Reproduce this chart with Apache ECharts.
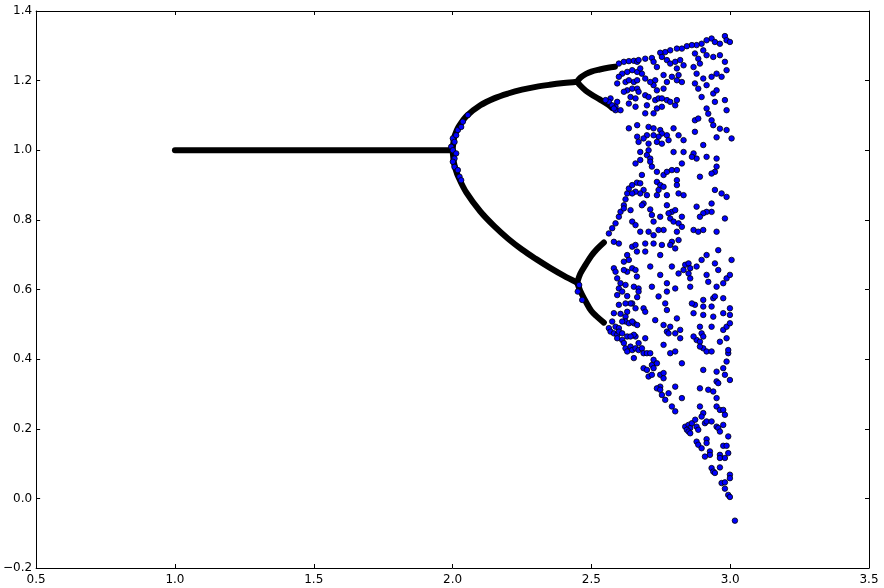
<!DOCTYPE html>
<html><head><meta charset="utf-8">
<script src="https://cdn.jsdelivr.net/npm/echarts@6/dist/echarts.min.js"></script>
<style>html,body{margin:0;padding:0;background:#fff}#c{width:884px;height:588px}</style>
</head><body><div id="c"></div>
<script>
// Tick values
const xTicks = [0.5, 1.0, 1.5, 2.0, 2.5, 3.0, 3.5];
const yTicks = [-0.2, 0.0, 0.2, 0.4, 0.6, 0.8, 1.0, 1.2, 1.4];

// Stable / periodic branches (r, x)
const fixedBranch = [[1.0,1.0],[1.5,1.0],[2.0,1.0]];
const upperPeriod2 = [[2.0,1.0],[2.005,1.034],[2.01,1.047],[2.02,1.065],[2.05,1.098],[2.1,1.129],[2.15,1.149],[2.2,1.163],[2.25,1.174],[2.3,1.182],[2.35,1.188],[2.4,1.193],[2.449,1.197]];
const lowerPeriod2 = [[2.0,1.0],[2.005,0.964],[2.01,0.948],[2.02,0.925],[2.05,0.878],[2.1,0.824],[2.15,0.782],[2.2,0.746],[2.25,0.715],[2.3,0.688],[2.35,0.663],[2.4,0.640],[2.449,0.620]];
const upperLoopHigh = [[2.449,1.197],[2.46,1.208],[2.48,1.219],[2.5,1.226],[2.53,1.232],[2.56,1.237],[2.585,1.240]];
const upperLoopLow = [[2.449,1.197],[2.46,1.186],[2.48,1.171],[2.5,1.160],[2.53,1.146],[2.56,1.131],[2.575,1.121]];
const lowerLoopHigh = [[2.449,0.620],[2.46,0.645],[2.48,0.672],[2.5,0.697],[2.52,0.716],[2.545,0.735]];
const lowerLoopLow = [[2.449,0.620],[2.46,0.596],[2.48,0.565],[2.5,0.538],[2.52,0.522],[2.545,0.505]];

// Loose points near the bifurcations
const transientPts = [[2.001,1.034],[2.007,1.024],[1.995,1.010],[2.001,1.000],[2.013,0.991],[2.007,0.976],[2.001,0.967],[2.007,0.952],[2.019,0.943],[2.025,0.924],[2.031,0.914],[2.019,1.058],[2.031,1.067],[2.013,1.043],[2.037,1.082],[2.055,1.101],[2.456,0.613],[2.451,0.594],[2.467,0.570]];

// Chaotic region, top part
const chaosTop = [[2.981,1.328],[2.933,1.321],[2.945,1.311],[2.963,1.306],[2.987,1.316],[2.999,1.311],[2.915,1.316],[2.897,1.306],[2.879,1.302],[2.862,1.302],[2.844,1.299],[2.826,1.292],[2.808,1.292],[2.784,1.287],[2.766,1.282],[2.748,1.280],
[2.599,1.249],[2.617,1.254],[2.635,1.256],[2.653,1.257],[2.665,1.254],[2.670,1.259],[2.694,1.263],[2.718,1.265],[2.724,1.254],[2.736,1.239],[2.754,1.268],[2.772,1.259],[2.784,1.249],[2.802,1.254],[2.808,1.235],[2.820,1.259],[2.832,1.244],[2.814,1.216],[2.808,1.201],[2.826,1.196],[2.790,1.211],[2.760,1.216],[2.772,1.196],[2.760,1.177],[2.730,1.201],[2.724,1.187],[2.736,1.172],[2.712,1.196],[2.694,1.206],[2.682,1.220],[2.665,1.225],[2.676,1.235],[2.647,1.230],[2.629,1.225],[2.611,1.220],[2.599,1.211],[2.593,1.192],[2.623,1.196],[2.635,1.201],[2.653,1.196],[2.665,1.201],[2.647,1.177],[2.629,1.172],[2.617,1.168],[2.665,1.177],[2.670,1.168],[2.641,1.153],[2.659,1.149],[2.694,1.158],[2.706,1.153],[2.700,1.129],[2.730,1.144],[2.742,1.149],[2.754,1.149],[2.772,1.144],[2.784,1.139],[2.802,1.129],[2.808,1.144],[2.754,1.125],[2.736,1.120],[2.724,1.106],[2.694,1.106],[2.659,1.125],[2.635,1.134],[2.593,1.139],[2.587,1.125],[2.587,1.115],[2.605,1.115],[2.569,1.149],[2.563,1.139],[2.551,1.144],[2.575,1.129],[2.581,1.120],
[2.635,1.063],[2.665,1.072],[2.706,1.067],[2.724,1.063],[2.748,1.058],[2.754,1.048],[2.772,1.043],[2.796,1.063],[2.814,1.043],[2.832,1.029],[2.778,1.029],[2.742,1.039],[2.724,1.043],[2.700,1.043],[2.688,1.034],[2.665,1.039],[2.670,1.024],[2.706,1.019],[2.736,1.024],[2.754,1.019],
[2.873,1.278],[2.885,1.263],[2.891,1.249],[2.868,1.239],[2.879,1.220],[2.903,1.206],[2.873,1.192],[2.885,1.177],[2.915,1.187],[2.939,1.163],[2.897,1.153],[2.951,1.172],[2.969,1.211],[2.951,1.220],[2.987,1.230],[2.981,1.254],[2.963,1.273],[2.939,1.268],[2.915,1.273],[2.903,1.287],[2.933,1.211],[2.945,1.139],[2.981,1.144],[2.987,1.115],[2.915,1.120],[2.921,1.105],[2.873,1.086],[2.885,1.091],[2.933,1.086],[2.939,1.072],[2.963,1.062],[2.987,1.058],[3.005,1.034],[2.951,1.037],[2.903,1.015],[2.873,1.053],
[2.706,1.000],[2.676,0.995],[2.700,0.986],[2.712,0.976],[2.832,0.995],[2.796,0.995],[2.868,0.991],[2.879,0.976],[2.862,0.981],[2.915,0.981],[2.951,0.976]];

// Chaotic region, upper middle part
const chaosUpperMid = [[2.563,0.761],[2.575,0.776],[2.587,0.790],[2.599,0.809],[2.605,0.823],[2.617,0.842],[2.623,0.859],[2.629,0.876],[2.635,0.890],[2.647,0.900],[2.664,0.907],[2.676,0.905],
[2.659,0.962],[2.676,0.972],[2.712,0.967],[2.718,0.953],[2.736,0.938],[2.760,0.929],[2.772,0.938],[2.790,0.943],[2.808,0.943],[2.826,0.962],[2.951,0.953],[2.945,0.938],[2.933,0.933],[2.891,0.924],[2.682,0.929],[2.688,0.886],[2.700,0.871],[2.676,0.876],[2.659,0.881],[2.647,0.876],[2.736,0.909],[2.748,0.900],[2.760,0.895],[2.742,0.886],[2.736,0.871],[2.772,0.871],[2.808,0.914],[2.808,0.900],[2.814,0.876],[2.832,0.871],[2.772,0.842],[2.790,0.823],[2.802,0.828],[2.778,0.819],[2.712,0.830],[2.688,0.847],[2.682,0.842],[2.641,0.828],[2.617,0.833],[2.647,0.795],[2.659,0.785],[2.718,0.814],[2.724,0.795],[2.748,0.809],[2.784,0.804],[2.796,0.795],[2.814,0.790],[2.826,0.809],[2.826,0.780],[2.808,0.766],[2.814,0.742],[2.790,0.737],[2.760,0.771],[2.742,0.771],[2.706,0.766],[2.676,0.766],[2.647,0.723],[2.659,0.728],[2.664,0.709],[2.694,0.709],[2.694,0.732],[2.724,0.732],[2.724,0.756],[2.748,0.699],[2.754,0.728],[2.784,0.728],[2.802,0.718],[2.581,0.737],[2.599,0.732],[2.617,0.680],[2.629,0.699],[2.635,0.685],[2.647,0.661],[2.659,0.656],[2.664,0.637],[2.629,0.651],[2.617,0.656],[2.581,0.661],[2.587,0.651],[2.593,0.632],[2.605,0.618],[2.623,0.613],[2.599,0.603],[2.653,0.608],[2.670,0.603],[2.712,0.666],[2.718,0.608],[2.748,0.642],[2.772,0.618],[2.790,0.666],[2.814,0.646],[2.802,0.603],[2.832,0.656],[2.838,0.671],[2.850,0.675],[2.856,0.661],[2.850,0.646],[2.856,0.632],[2.856,0.608],[2.879,0.666],[2.897,0.685],[2.915,0.699],[2.957,0.713],[2.945,0.675],[2.957,0.656],[2.915,0.642],[2.921,0.622],[2.951,0.608],[2.975,0.618],[2.987,0.632],[2.999,0.642],[3.005,0.685],[2.868,0.771],[2.885,0.766],[2.903,0.771],[2.951,0.766],[2.981,0.804],[2.933,0.823],[2.915,0.823],[2.903,0.819],[2.891,0.809],[2.879,0.838],[2.933,0.847],[2.969,0.876],[2.987,0.866],[2.945,0.886]];

// Chaotic region, lower middle part
const chaosLowerMid = [[2.593,0.584],[2.611,0.594],[2.629,0.581],[2.647,0.560],[2.665,0.578],[2.670,0.594],[2.641,0.560],[2.623,0.560],[2.599,0.556],[2.659,0.546],[2.605,0.530],[2.629,0.536],[2.623,0.522],[2.623,0.508],[2.635,0.503],[2.611,0.508],[2.581,0.532],[2.575,0.508],[2.587,0.493],[2.563,0.489],[2.569,0.479],[2.581,0.474],[2.593,0.470],[2.599,0.489],[2.599,0.479],[2.611,0.474],[2.593,0.460],[2.611,0.455],[2.629,0.465],[2.617,0.446],[2.623,0.431],[2.629,0.422],[2.641,0.436],[2.647,0.426],[2.659,0.431],[2.659,0.465],[2.653,0.470],[2.641,0.465],[2.670,0.446],[2.670,0.426],[2.682,0.431],[2.694,0.460],[2.688,0.417],[2.700,0.417],[2.712,0.417],[2.653,0.403],[2.653,0.503],[2.665,0.498],[2.647,0.508],[2.688,0.546],[2.694,0.536],[2.730,0.512],[2.742,0.580],[2.772,0.594],[2.766,0.560],[2.772,0.541],[2.760,0.498],[2.772,0.479],[2.784,0.493],[2.778,0.474],[2.802,0.474],[2.820,0.484],[2.820,0.460],[2.808,0.517],[2.760,0.441],[2.784,0.417],[2.802,0.422],[2.826,0.388],[2.724,0.398],[2.718,0.383],[2.736,0.388],[2.724,0.374],[2.688,0.374],[2.700,0.369],[2.706,0.350],[2.718,0.355],[2.748,0.355],[2.760,0.360],[2.760,0.345],
[2.748,0.321],[2.736,0.316],[2.748,0.312],[2.754,0.297],[2.766,0.283],[2.778,0.302],[2.802,0.321],[2.790,0.264],[2.802,0.250],[2.826,0.288],
[2.873,0.556],[2.903,0.570],[2.903,0.551],[2.933,0.551],[2.903,0.527],[2.939,0.575],[2.945,0.580],[2.975,0.575],[2.999,0.546],[2.999,0.527],[2.975,0.532],[2.939,0.522],[2.933,0.493],[2.891,0.493],[2.897,0.474],[2.903,0.465],[2.879,0.455],[2.868,0.465],[2.891,0.450],[2.903,0.431],[2.915,0.422],[2.933,0.422],[2.891,0.436],[2.963,0.450],[2.975,0.484],[2.987,0.493],[2.999,0.503],[2.987,0.460],[2.993,0.417],[2.993,0.426],[2.987,0.393],[2.975,0.374],[2.981,0.355],[2.999,0.340],[2.951,0.336],[2.957,0.331],[2.939,0.307],[2.921,0.312],[2.951,0.288],[2.951,0.264],[2.963,0.254],[2.975,0.254],[2.981,0.240],[2.891,0.316],[2.903,0.369],[2.951,0.364],[2.891,0.264],[2.903,0.245],[2.897,0.235],[2.868,0.532],[2.862,0.560]];

// Chaotic region, bottom tip
const chaosBottom = [[2.838,0.206],[2.850,0.211],[2.856,0.202],[2.844,0.197],[2.850,0.192],[2.856,0.187],[2.862,0.216],[2.874,0.226],[2.879,0.206],[2.885,0.197],[2.909,0.216],[2.915,0.221],[2.933,0.221],[2.951,0.206],[2.957,0.202],[2.963,0.192],[2.975,0.211],[2.993,0.178],[2.879,0.163],[2.885,0.154],[2.897,0.144],[2.915,0.170],[2.915,0.159],[2.927,0.135],[2.927,0.125],[2.909,0.120],[2.963,0.125],[2.963,0.116],[2.981,0.116],[2.993,0.130],[2.975,0.151],[2.987,0.151],[2.933,0.087],[2.939,0.077],[2.945,0.073],[2.963,0.089],[2.969,0.044],[2.981,0.046],[2.981,0.028],[2.993,0.010],[2.999,0.004],[2.999,0.068],[2.999,0.058],[3.017,-0.064]];

const fmt = v => { const s = Number(v).toFixed(1); return s.charAt(0) === '-' ? '\u2212' + s.slice(1) : s; };
const labelFont = { fontFamily: 'DejaVu Sans', fontSize: 12, color: '#000' };

function xAx(pos, showLabel) {
  return { type: 'value', position: pos, min: xTicks[0], max: xTicks[xTicks.length-1], interval: 0.5,
    axisLine: { show: true, onZero: false, lineStyle: { color: '#000', width: 1 } },
    axisTick: { show: true, inside: true, length: 4, lineStyle: { color: '#000', width: 1 } },
    axisLabel: Object.assign({ show: showLabel, margin: 6, formatter: fmt, showMinLabel: true, showMaxLabel: true }, labelFont),
    splitLine: { show: false } };
}
function yAx(pos, showLabel) {
  return { type: 'value', position: pos, min: yTicks[0], max: yTicks[yTicks.length-1], interval: 0.2,
    axisLine: { show: true, onZero: false, lineStyle: { color: '#000', width: 1 } },
    axisTick: { show: true, inside: true, length: 4, lineStyle: { color: '#000', width: 1 } },
    axisLabel: Object.assign({ show: showLabel, margin: 4, formatter: fmt, showMinLabel: true, showMaxLabel: true }, labelFont),
    splitLine: { show: false } };
}

function band(data) {
  return { type: 'line', data: data, xAxisIndex: 0, yAxisIndex: 0, smooth: 0.35, symbol: 'none', z: 2,
    lineStyle: { color: '#000', width: 6, cap: 'round', join: 'round' }, silent: true };
}
function dots(data) {
  return { type: 'scatter', data: data, xAxisIndex: 0, yAxisIndex: 0, symbol: 'circle', symbolSize: 5.5, z: 3,
    itemStyle: { color: '#0000ff', borderColor: '#000', borderWidth: 0.8, opacity: 1 }, silent: true };
}

const chart = echarts.init(document.getElementById('c'), null, { renderer: 'canvas' });
chart.setOption({
  animation: false,
  backgroundColor: '#fff',
  grid: { left: 33, right: 15, top: 11, bottom: 20, containLabel: false },
  xAxis: [xAx('bottom', true), xAx('top', false)],
  yAxis: [yAx('left', true), yAx('right', false)],
  series: [
    band(fixedBranch), band(upperPeriod2), band(lowerPeriod2),
    band(upperLoopHigh), band(upperLoopLow), band(lowerLoopHigh), band(lowerLoopLow),
    dots(transientPts), dots(chaosTop), dots(chaosUpperMid), dots(chaosLowerMid), dots(chaosBottom)
  ]
});
</script>
</body></html>
